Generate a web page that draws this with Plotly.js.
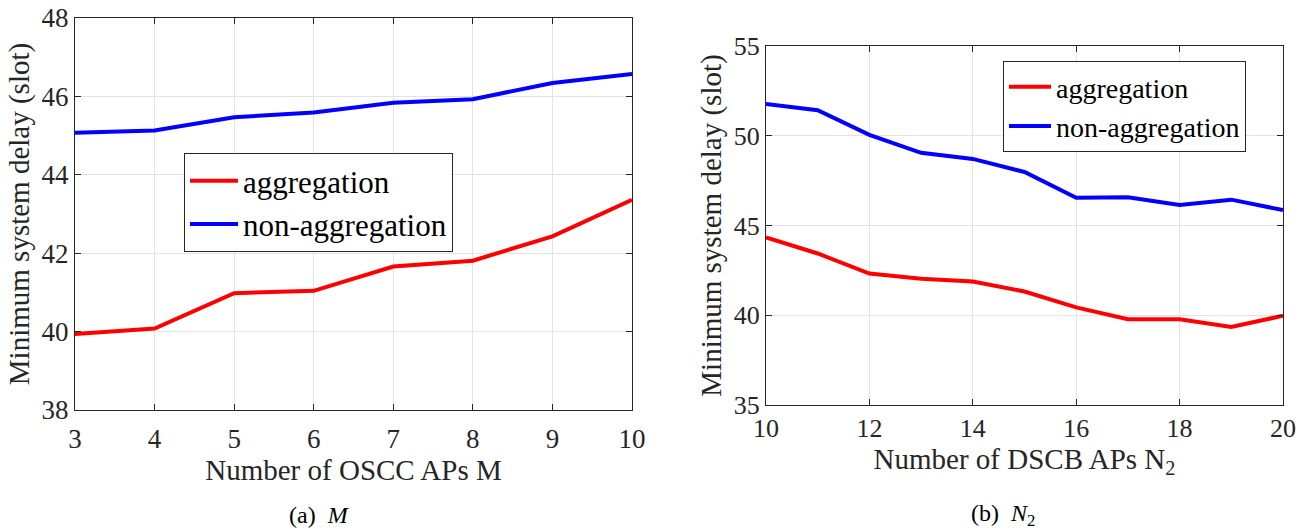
<!DOCTYPE html>
<html>
<head>
<meta charset="utf-8">
<script src="https://cdn.plot.ly/plotly-3.0.1.min.js"></script>
<style>html,body{margin:0;padding:0;background:#fff;}#chart{width:1315px;height:529px;}</style>
</head>
<body>
<div id="chart"></div>
<script>
// Panel (a): number of OSCC APs M
const mValues = [3, 4, 5, 6, 7, 8, 9, 10];
const aggM = [39.94, 40.08, 40.98, 41.04, 41.66, 41.81, 42.43, 43.36];
const nonAggM = [45.07, 45.13, 45.47, 45.59, 45.84, 45.93, 46.34, 46.57];

// Panel (b): number of DSCB APs N2
const n2Values = [10, 11, 12, 13, 14, 15, 16, 17, 18, 19, 20];
const aggN2 = [44.34, 43.44, 42.32, 42.03, 41.88, 41.32, 40.44, 39.78, 39.78, 39.35, 39.97];
const nonAggN2 = [51.77, 51.42, 50.05, 49.05, 48.71, 47.98, 46.54, 46.57, 46.14, 46.44, 45.86];

const seriesNames = ['aggregation', 'non-aggregation'];
const yTitle = 'Minimum system delay (slot)';

const FONT = '"Liberation Serif", "Times New Roman", Times, serif';
const AX = '#262626';

const traces = [
  {x: mValues, y: aggM, name: seriesNames[0], mode: 'lines', line: {color: '#ff0000', width: 4}, xaxis: 'x', yaxis: 'y', legend: 'legend'},
  {x: mValues, y: nonAggM, name: seriesNames[1], mode: 'lines', line: {color: '#0000ff', width: 4}, xaxis: 'x', yaxis: 'y', legend: 'legend'},
  {x: n2Values, y: aggN2, name: seriesNames[0], mode: 'lines', line: {color: '#ff0000', width: 4}, xaxis: 'x2', yaxis: 'y2', legend: 'legend2'},
  {x: n2Values, y: nonAggN2, name: seriesNames[1], mode: 'lines', line: {color: '#0000ff', width: 4}, xaxis: 'x2', yaxis: 'y2', legend: 'legend2'}
];

function axisBase(extra, tsize) {
  return Object.assign({
    showline: true, linecolor: AX, linewidth: 1, mirror: 'ticks',
    ticks: 'inside', ticklen: 6, tickcolor: AX,
    showgrid: true, gridcolor: '#e3e3e3', gridwidth: 1,
    zeroline: false, tickfont: {family: FONT, size: tsize, color: '#262626'}
  }, extra);
}
const titleFont = {family: FONT, size: 29, color: '#262626'};

const layout = {
  width: 1315, height: 529,
  margin: {l: 0, r: 0, t: 0, b: 0},
  paper_bgcolor: '#fff', plot_bgcolor: '#fff',
  font: {family: FONT, color: '#262626'},
  showlegend: true,
  xaxis: axisBase({domain: [75/1315, 632/1315], range: [3, 10], dtick: 1, anchor: 'y', ticklabelstandoff: 5,
    title: {text: 'Number of OSCC APs M', font: titleFont, standoff: 6}}, 27),
  yaxis: axisBase({domain: [1 - 410/529, 1 - 18/529], range: [38, 48], dtick: 2, anchor: 'x',
    title: {text: yTitle, font: titleFont, standoff: 3}}, 27),
  xaxis2: axisBase({domain: [766/1315, 1283/1315], range: [10, 20], dtick: 2, anchor: 'y2',
    title: {text: 'Number of DSCB APs N<sub>2</sub>', font: titleFont, standoff: 2}}, 26),
  yaxis2: axisBase({domain: [1 - 405/529, 1 - 46/529], range: [35, 55], dtick: 5, anchor: 'x2',
    title: {text: yTitle, font: titleFont, standoff: 3}}, 26),
  legend: {x: 184/1315, y: 1 - 153/529, xanchor: 'left', yanchor: 'top', bgcolor: '#fff', itemwidth: 48,
    bordercolor: AX, borderwidth: 1, font: {family: FONT, size: 31, color: '#000'}, tracegroupgap: 0},
  legend2: {x: 1003/1315, y: 1 - 61/529, xanchor: 'left', yanchor: 'top', bgcolor: '#fff', itemwidth: 42,
    bordercolor: AX, borderwidth: 1, font: {family: FONT, size: 28, color: '#000'}, tracegroupgap: 0},
  annotations: [
    {text: '(a)  <i>M</i>', xref: 'paper', yref: 'paper', x: 319/1315, y: 1 - 515/529, xanchor: 'center', yanchor: 'middle', showarrow: false, font: {family: FONT, size: 24, color: '#000'}},
    {text: '(b)  <i>N</i><sub>2</sub>', xref: 'paper', yref: 'paper', x: 1003/1315, y: 1 - 515/529, xanchor: 'center', yanchor: 'middle', showarrow: false, font: {family: FONT, size: 24, color: '#000'}}
  ]
};

Plotly.newPlot('chart', traces, layout, {displayModeBar: false, staticPlot: true});
</script>
</body>
</html>
